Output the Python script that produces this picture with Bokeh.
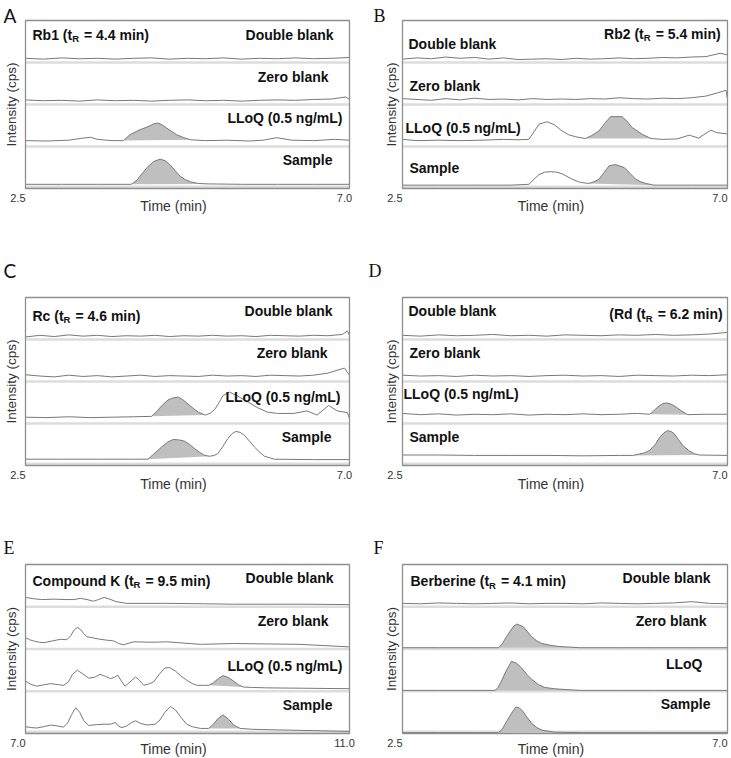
import math
from bokeh.plotting import figure
from bokeh.layouts import row, column
from bokeh.models import Range1d
from bokeh.core.properties import value
from bokeh.embed import file_html
from bokeh.resources import INLINE

# ------------------------------------------------------------------ data
ROW_LABELS = ["Double blank", "Zero blank", "LLoQ (0.5 ng/mL)", "Sample"]
F_ROW_LABELS = ["Double blank", "Zero blank", "LLoQ", "Sample"]
PANEL_LETTERS = ["A", "B", "C", "D", "E", "F"]
TITLES = [("Rb1 (t", "R", " = 4.4 min)"),
          ("Rb2 (t", "R", " = 5.4 min)"),
          ("Rc (t", "R", " = 4.6 min)"),
          ("(Rd (t", "R", " = 6.2 min)"),
          ("Compound K (t", "R", " = 9.5 min)"),
          ("Berberine (t", "R", " = 4.1 min)")]
X_LABEL = "Time (min)"
Y_LABEL = "Intensity (cps)"
XLIM_A = [2.5, 7.0]
XLIM_E = [7.0, 11.0]
GRID25 = [2.5, 2.75, 3.0, 3.25, 3.5, 3.75, 4.0, 4.25, 4.5, 4.75, 5.0, 5.25, 5.5, 5.75, 6.0, 6.25, 6.5, 6.75, 7.0]

# Panel A (Rb1)
A_DB_X = GRID25
A_DB_Y = [0.10, 0.08, 0.11, 0.09, 0.10, 0.08, 0.10, 0.11, 0.08, 0.10, 0.09, 0.11, 0.08, 0.10, 0.09, 0.11, 0.09, 0.10, 0.12]
A_ZB_X = [2.5, 2.75, 3.0, 3.25, 3.5, 3.75, 4.0, 4.25, 4.5, 4.75, 5.0, 5.25, 5.5, 5.75, 6.0, 6.25, 6.5, 6.75, 6.95, 7.0]
A_ZB_Y = [0.11, 0.09, 0.10, 0.08, 0.11, 0.09, 0.10, 0.08, 0.10, 0.11, 0.09, 0.10, 0.08, 0.10, 0.11, 0.10, 0.12, 0.13, 0.18, 0.12]
A_LL_X = [2.5, 2.8, 3.1, 3.3, 3.4, 3.5, 3.7, 3.86, 3.95, 4.09, 4.2, 4.28, 4.34, 4.4, 4.46, 4.53, 4.6, 4.7, 4.79, 5.0, 5.3, 5.6, 5.8, 5.99, 6.2, 6.5, 6.8, 7.0]
A_LL_Y = [0.14, 0.13, 0.15, 0.20, 0.22, 0.17, 0.14, 0.14, 0.28, 0.40, 0.47, 0.54, 0.56, 0.51, 0.44, 0.36, 0.28, 0.21, 0.16, 0.14, 0.15, 0.13, 0.15, 0.21, 0.15, 0.14, 0.17, 0.15]
A_LL_PEAK = [3.86, 4.79]
A_SM_X = [2.5, 3.0, 3.5, 3.97, 4.05, 4.13, 4.2, 4.28, 4.37, 4.44, 4.51, 4.58, 4.65, 4.72, 4.79, 4.9, 5.02, 5.5, 6.0, 6.5, 7.0]
A_SM_Y = [0.10, 0.10, 0.10, 0.10, 0.20, 0.38, 0.52, 0.64, 0.70, 0.66, 0.56, 0.42, 0.29, 0.21, 0.16, 0.12, 0.11, 0.10, 0.10, 0.10, 0.10]
A_SM_PEAK = [3.97, 5.02]

# Panel B (Rb2)
B_DB_X = [2.5, 2.7, 2.9, 3.1, 3.3, 3.5, 3.7, 3.9, 4.1, 4.3, 4.5, 4.7, 4.9, 5.1, 5.3, 5.5, 5.7, 5.9, 6.1, 6.3, 6.5, 6.7, 6.9, 7.0]
B_DB_Y = [0.08, 0.11, 0.09, 0.13, 0.10, 0.12, 0.08, 0.11, 0.07, 0.08, 0.09, 0.07, 0.10, 0.08, 0.09, 0.11, 0.09, 0.10, 0.12, 0.11, 0.13, 0.14, 0.22, 0.18]
B_ZB_X = [2.5, 2.7, 2.9, 3.1, 3.3, 3.5, 3.7, 3.9, 4.1, 4.3, 4.5, 4.7, 4.9, 5.1, 5.3, 5.5, 5.7, 5.9, 6.1, 6.3, 6.5, 6.7, 6.85, 6.98, 7.0]
B_ZB_Y = [0.14, 0.12, 0.10, 0.14, 0.11, 0.15, 0.12, 0.13, 0.11, 0.14, 0.12, 0.13, 0.12, 0.14, 0.13, 0.16, 0.14, 0.13, 0.15, 0.14, 0.16, 0.20, 0.27, 0.34, 0.12]
B_LL_X = [2.5, 2.7, 3.0, 3.3, 3.6, 3.9, 4.1, 4.25, 4.32, 4.39, 4.5, 4.6, 4.71, 4.8, 4.9, 5.03, 5.12, 5.22, 5.3, 5.38, 5.54, 5.61, 5.68, 5.82, 5.94, 6.1, 6.3, 6.47, 6.6, 6.77, 6.85, 7.0]
B_LL_Y = [0.17, 0.14, 0.15, 0.14, 0.15, 0.17, 0.16, 0.17, 0.35, 0.53, 0.59, 0.52, 0.37, 0.28, 0.23, 0.19, 0.26, 0.37, 0.55, 0.71, 0.71, 0.60, 0.45, 0.29, 0.19, 0.17, 0.18, 0.27, 0.20, 0.39, 0.33, 0.30]
B_LL_PEAK = [5.03, 5.94]
B_SM_X = [2.5, 3.0, 3.5, 4.0, 4.25, 4.32, 4.39, 4.47, 4.55, 4.63, 4.71, 4.85, 4.95, 5.03, 5.08, 5.15, 5.22, 5.30, 5.36, 5.45, 5.57, 5.65, 5.73, 5.80, 5.87, 5.98, 6.5, 7.0]
B_SM_Y = [0.08, 0.08, 0.08, 0.08, 0.10, 0.22, 0.33, 0.39, 0.40, 0.39, 0.35, 0.22, 0.15, 0.13, 0.12, 0.16, 0.22, 0.40, 0.54, 0.57, 0.50, 0.36, 0.22, 0.16, 0.12, 0.08, 0.08, 0.08]
B_SM_PEAK = [5.08, 5.98]

# Panel C (Rc)
C_DB_X = [2.5, 2.7, 2.9, 3.1, 3.3, 3.5, 3.7, 3.9, 4.1, 4.3, 4.5, 4.7, 4.9, 5.1, 5.3, 5.5, 5.7, 5.9, 6.1, 6.3, 6.5, 6.7, 6.9, 6.97, 7.0]
C_DB_Y = [0.06, 0.10, 0.07, 0.11, 0.08, 0.10, 0.07, 0.09, 0.08, 0.10, 0.07, 0.09, 0.08, 0.10, 0.08, 0.09, 0.07, 0.10, 0.09, 0.08, 0.10, 0.09, 0.12, 0.20, 0.10]
C_ZB_X = [2.5, 2.7, 2.9, 3.1, 3.3, 3.5, 3.7, 3.9, 4.1, 4.3, 4.5, 4.7, 4.9, 5.1, 5.3, 5.5, 5.7, 5.9, 6.1, 6.3, 6.5, 6.7, 6.93, 6.97, 7.0]
C_ZB_Y = [0.16, 0.13, 0.11, 0.15, 0.12, 0.14, 0.11, 0.13, 0.15, 0.12, 0.14, 0.13, 0.12, 0.15, 0.13, 0.14, 0.12, 0.15, 0.14, 0.13, 0.15, 0.20, 0.32, 0.22, 0.15]
C_LL_X = [2.5, 2.8, 3.1, 3.4, 3.7, 4.0, 4.25, 4.32, 4.39, 4.48, 4.55, 4.62, 4.69, 4.76, 4.83, 4.90, 5.00, 5.07, 5.13, 5.19, 5.24, 5.33, 5.45, 5.6, 5.72, 5.86, 6.0, 6.23, 6.41, 6.55, 6.71, 6.83, 6.97, 7.0]
C_LL_Y = [0.15, 0.14, 0.16, 0.14, 0.15, 0.16, 0.17, 0.28, 0.42, 0.56, 0.61, 0.63, 0.56, 0.46, 0.36, 0.27, 0.20, 0.25, 0.34, 0.50, 0.66, 0.75, 0.65, 0.50, 0.38, 0.27, 0.24, 0.24, 0.30, 0.20, 0.43, 0.30, 0.26, 0.12]
C_LL_PEAK = [4.25, 5.00]
C_SM_X = [2.5, 3.0, 3.5, 4.0, 4.20, 4.30, 4.39, 4.47, 4.55, 4.63, 4.71, 4.78, 4.85, 4.92, 4.99, 5.06, 5.12, 5.17, 5.24, 5.31, 5.37, 5.42, 5.48, 5.54, 5.61, 5.68, 5.75, 5.82, 5.96, 6.5, 7.0]
C_SM_Y = [0.15, 0.15, 0.15, 0.15, 0.15, 0.30, 0.44, 0.55, 0.62, 0.61, 0.58, 0.50, 0.40, 0.31, 0.24, 0.22, 0.24, 0.28, 0.45, 0.64, 0.76, 0.81, 0.79, 0.72, 0.58, 0.44, 0.32, 0.22, 0.15, 0.14, 0.14]
C_SM_PEAK = [4.20, 5.06]

# Panel D (Rd)
D_DB_X = GRID25
D_DB_Y = [0.10, 0.08, 0.11, 0.09, 0.10, 0.12, 0.09, 0.10, 0.08, 0.11, 0.10, 0.09, 0.11, 0.10, 0.12, 0.10, 0.11, 0.13, 0.17]
D_ZB_X = GRID25
D_ZB_Y = [0.15, 0.13, 0.14, 0.12, 0.15, 0.13, 0.14, 0.12, 0.14, 0.15, 0.13, 0.14, 0.12, 0.15, 0.14, 0.13, 0.15, 0.14, 0.16]
D_LL_X = [2.5, 2.75, 3.0, 3.25, 3.5, 3.75, 4.0, 4.25, 4.5, 4.75, 5.0, 5.25, 5.5, 5.75, 5.92, 5.98, 6.03, 6.10, 6.15, 6.22, 6.29, 6.37, 6.45, 6.7, 7.0]
D_LL_Y = [0.24, 0.21, 0.23, 0.20, 0.22, 0.21, 0.23, 0.20, 0.22, 0.21, 0.23, 0.21, 0.22, 0.24, 0.22, 0.30, 0.39, 0.47, 0.49, 0.46, 0.39, 0.29, 0.21, 0.22, 0.22]
D_LL_PEAK = [5.92, 6.45]
D_SM_X = [2.5, 3.0, 3.5, 4.0, 4.5, 5.0, 5.5, 5.69, 5.85, 5.92, 6.0, 6.06, 6.12, 6.17, 6.22, 6.26, 6.32, 6.38, 6.46, 6.54, 6.61, 7.0]
D_SM_Y = [0.25, 0.25, 0.24, 0.24, 0.24, 0.23, 0.24, 0.24, 0.30, 0.36, 0.50, 0.67, 0.78, 0.83, 0.81, 0.76, 0.62, 0.48, 0.36, 0.28, 0.25, 0.24]
D_SM_PEAK = [5.69, 6.61]

# Panel E (Compound K)
E_DB_X = [7.0, 7.1, 7.2, 7.35, 7.5, 7.6, 7.68, 7.76, 7.84, 7.9, 7.97, 8.04, 8.12, 8.25, 8.5, 8.75, 9.2, 9.57, 10.0, 10.5, 11.0]
E_DB_Y = [0.22, 0.19, 0.17, 0.18, 0.17, 0.17, 0.20, 0.17, 0.13, 0.17, 0.22, 0.18, 0.12, 0.08, 0.08, 0.08, 0.07, 0.06, 0.06, 0.06, 0.05]
E_ZB_X = [7.0, 7.05, 7.10, 7.17, 7.23, 7.33, 7.43, 7.51, 7.56, 7.60, 7.64, 7.68, 7.72, 7.76, 7.84, 7.92, 8.0, 8.09, 8.15, 8.21, 8.28, 8.34, 8.55, 8.75, 9.16, 9.57, 10.39, 11.0]
E_ZB_Y = [0.27, 0.22, 0.19, 0.16, 0.15, 0.19, 0.23, 0.22, 0.32, 0.45, 0.51, 0.46, 0.36, 0.29, 0.26, 0.23, 0.21, 0.19, 0.13, 0.10, 0.14, 0.17, 0.16, 0.17, 0.11, 0.13, 0.11, 0.05]
E_LL_X = [7.0, 7.07, 7.14, 7.22, 7.31, 7.39, 7.47, 7.53, 7.58, 7.64, 7.70, 7.78, 7.85, 7.92, 7.99, 8.05, 8.10, 8.14, 8.18, 8.23, 8.29, 8.36, 8.41, 8.46, 8.52, 8.58, 8.66, 8.72, 8.78, 8.85, 8.92, 8.99, 9.06, 9.12, 9.20, 9.26, 9.32, 9.38, 9.44, 9.50, 9.57, 9.63, 9.69, 9.8, 9.98, 10.5, 11.0]
E_LL_Y = [0.24, 0.16, 0.12, 0.15, 0.18, 0.16, 0.14, 0.22, 0.40, 0.50, 0.42, 0.31, 0.33, 0.40, 0.35, 0.30, 0.33, 0.38, 0.25, 0.12, 0.22, 0.34, 0.25, 0.14, 0.17, 0.22, 0.42, 0.55, 0.56, 0.48, 0.36, 0.26, 0.18, 0.14, 0.14, 0.14, 0.20, 0.30, 0.37, 0.33, 0.24, 0.15, 0.10, 0.09, 0.08, 0.07, 0.06]
E_LL_PEAK = [9.26, 9.69]
E_SM_X = [7.0, 7.07, 7.14, 7.22, 7.31, 7.39, 7.47, 7.52, 7.57, 7.62, 7.67, 7.72, 7.78, 7.88, 7.97, 8.05, 8.11, 8.15, 8.19, 8.25, 8.31, 8.36, 8.42, 8.50, 8.60, 8.66, 8.72, 8.79, 8.85, 8.92, 8.99, 9.06, 9.16, 9.26, 9.32, 9.38, 9.44, 9.50, 9.57, 9.65, 9.8, 9.98, 10.5, 11.0]
E_SM_Y = [0.16, 0.14, 0.13, 0.16, 0.20, 0.18, 0.15, 0.25, 0.45, 0.61, 0.50, 0.30, 0.19, 0.21, 0.22, 0.22, 0.26, 0.17, 0.14, 0.18, 0.26, 0.30, 0.24, 0.20, 0.22, 0.32, 0.50, 0.64, 0.56, 0.38, 0.22, 0.16, 0.12, 0.12, 0.22, 0.36, 0.44, 0.35, 0.20, 0.12, 0.10, 0.09, 0.07, 0.05]
E_SM_PEAK = [9.26, 9.65]

# Panel F (Berberine)
F_DB_X = GRID25
F_DB_Y = [0.08, 0.07, 0.09, 0.08, 0.07, 0.08, 0.09, 0.07, 0.08, 0.08, 0.07, 0.09, 0.08, 0.07, 0.08, 0.09, 0.12, 0.08, 0.07]
F_ZB_X = [2.5, 3.0, 3.5, 3.83, 3.88, 3.94, 3.99, 4.04, 4.08, 4.17, 4.23, 4.29, 4.36, 4.43, 4.54, 4.66, 4.96, 5.5, 6.0, 6.5, 7.0]
F_ZB_Y = [0.03, 0.03, 0.03, 0.03, 0.12, 0.29, 0.42, 0.54, 0.59, 0.53, 0.41, 0.29, 0.19, 0.13, 0.09, 0.06, 0.03, 0.03, 0.03, 0.03, 0.03]
F_ZB_PEAK = [3.83, 4.96]
F_LL_X = [2.5, 3.0, 3.5, 3.78, 3.82, 3.87, 3.94, 4.01, 4.08, 4.15, 4.22, 4.29, 4.38, 4.47, 4.6, 4.75, 4.98, 5.5, 6.0, 7.0]
F_LL_Y = [0.02, 0.02, 0.02, 0.02, 0.08, 0.24, 0.50, 0.71, 0.66, 0.55, 0.40, 0.28, 0.16, 0.09, 0.06, 0.04, 0.02, 0.02, 0.02, 0.02]
F_LL_PEAK = [3.78, 4.98]
F_SM_X = [2.5, 3.0, 3.5, 3.83, 3.88, 3.94, 4.01, 4.07, 4.12, 4.17, 4.23, 4.29, 4.36, 4.43, 4.61, 5.0, 6.0, 7.0]
F_SM_Y = [0.02, 0.02, 0.02, 0.02, 0.10, 0.28, 0.48, 0.63, 0.60, 0.52, 0.37, 0.24, 0.14, 0.08, 0.03, 0.02, 0.02, 0.02]
F_SM_PEAK = [3.83, 4.61]

# ------------------------------------------------------------------ styles
LINE_C = "#787878"
FILL_C = "#bfbfbf"
SEP_C = "#dddddd"
BOX_C = "#8e8e8e"
TXT_C = "#111111"
AX_C = "#333333"
FONT = "Liberation Sans"
FS = 14.0
SUB_FS = 9.5

ARIAL_BOLD = {' ': 278, '(': 333, ')': 333, '=': 584, '.': 278, '/': 278, 'C': 722, 'K': 722,
              'R': 722, 'B': 722, 'a': 556, 'b': 611, 'c': 556, 'd': 611, 'e': 556, 'i': 278,
              'm': 889, 'n': 611, 'o': 611, 'p': 611, 'r': 389, 't': 333, 'u': 611}


def text_w(s, size):
    return sum(ARIAL_BOLD.get(ch, 556) for ch in s) * size / 1000.0


def traces(pfx):
    g = globals()
    out = []
    for k in ["DB", "ZB", "LL", "SM"]:
        out.append((g[pfx + "_" + k + "_X"], g[pfx + "_" + k + "_Y"], g.get(pfx + "_" + k + "_PEAK")))
    return out


# panel block geometry (px): block width, frame left, frame width
COLS = [dict(bw=365, left=25, fw=324), dict(bw=366, left=402 - 365, fw=325)]
# block height, frame top, frame height, x-label offset below frame
ROWS = [dict(bh=255, top=20, fh=168, xlab=17), dict(bh=250, top=42, fh=168, xlab=18),
        dict(bh=253, top=59, fh=169, xlab=15)]

LABEL_POS = [
    [("right", -16, 3.66), ("right", -21, 2.66), ("right", -7, 1.68), ("right", -17, 0.67)],
    [("left", 6, 3.45), ("left", 7, 2.45), ("left", 3, 1.43), ("left", 7, 0.50)],
    [("right", -17, 3.69), ("right", -22, 2.67), ("right", -9, 1.62), ("right", -18, 0.69)],
    [("left", 6, 3.69), ("left", 7, 2.67), ("left", 1, 1.71), ("left", 7, 0.67)],
    [("right", -16, 3.67), ("right", -21, 2.67), ("right", -7, 1.60), ("right", -17, 0.67)],
    [("right", -17, 3.67), ("right", -21, 2.67), ("right", -25, 1.64), ("right", -17, 0.69)],
]
TITLE_POS = [("left", 7, 3.66), ("right", -3, 3.69), ("left", 7, 3.57),
             ("right", -1, 3.60), ("left", 7, 3.62), ("left", 8, 3.60)]
# letter: x offset from frame left, baseline offset above frame top, font, size
LETTER_POS = [(-22, 5, "Lato", "19px"), (-29, 5, "Liberation Serif", "18px"),
              (-22, 27, "Lato", "19px"), (-34, 27, "Liberation Serif", "18px"),
              (-22, 17, "Liberation Serif", "18px"), (-29, 17, "Liberation Serif", "18px")]


def make_panel(idx):
    pfx = "ABCDEF"[idx]
    xmin, xmax = XLIM_E if pfx == "E" else XLIM_A
    col = COLS[idx % 2]
    rw = ROWS[idx // 2]
    dxp = (xmax - xmin) / col["fw"]
    dyp = 4.0 / rw["fh"]
    right_pad = col["bw"] - col["left"] - col["fw"]
    bottom_pad = rw["bh"] - rw["top"] - rw["fh"]
    p = figure(frame_width=col["bw"], frame_height=rw["bh"], min_border=0,
               x_range=Range1d(xmin - col["left"] * dxp, xmax + right_pad * dxp),
               y_range=Range1d(0 - bottom_pad * dyp, 4 + rw["top"] * dyp),
               x_axis_location=None, y_axis_location=None,
               output_backend="svg", toolbar_location=None)
    p.xgrid.visible = False
    p.ygrid.visible = False
    p.outline_line_color = None
    p.background_fill_color = "white"
    p.border_fill_color = "white"

    # row separators
    seps = [0.04, 1, 2, 3]
    p.segment(x0=[xmin] * 4, x1=[xmax] * 4, y0=seps, y1=seps, line_color=SEP_C, line_width=2.5)

    # traces (row 0 at top)
    for i, (xs, ys, peak) in enumerate(traces(pfx)):
        off = 3 - i
        yy = [v + off for v in ys]
        if peak:
            px = [x for x in xs if peak[0] <= x <= peak[1]]
            py = [y for x, y in zip(xs, yy) if peak[0] <= x <= peak[1]]
            p.patch(px, py, fill_color=FILL_C, line_color=None)
        p.line(xs, yy, line_color=LINE_C, line_width=1.0)

    # plot box
    p.quad(left=[xmin], right=[xmax], bottom=[0], top=[4], fill_color=None,
           line_color=BOX_C, line_width=1.3)

    # row labels
    names = F_ROW_LABELS if pfx == "F" else ROW_LABELS
    for name, (side, dx, yv) in zip(names, LABEL_POS[idx]):
        p.text(x=[xmin if side == "left" else xmax], y=[yv], text=[name], x_offset=dx,
               text_align=side, text_baseline="middle", text_font=value(FONT),
               text_font_style="bold", text_font_size=f"{FS}px", text_color=TXT_C)

    # compound title with subscript R
    pre, sub, suf = TITLES[idx]
    side, dx, yv = TITLE_POS[idx]
    gap = 5
    if side == "left":
        x0 = xmin
        o_pre = dx
        o_sub = dx + text_w(pre, FS)
        o_suf = o_sub + text_w(sub, SUB_FS) + gap
    else:
        x0 = xmax
        o_suf = dx
        o_sub = dx - text_w(suf, FS) - gap
        o_pre = o_sub - text_w(sub, SUB_FS)
    common = dict(text_align=side, text_font=value(FONT), text_font_style="bold", text_color=TXT_C)
    p.text(x=[x0], y=[yv], text=[pre], x_offset=o_pre, text_baseline="middle",
           text_font_size=f"{FS}px", **common)
    p.text(x=[x0], y=[yv], text=[sub], x_offset=o_sub, y_offset=4, text_baseline="middle",
           text_font_size=f"{SUB_FS}px", **common)
    p.text(x=[x0], y=[yv], text=[suf], x_offset=o_suf, text_baseline="middle",
           text_font_size=f"{FS}px", **common)

    # x tick labels (ends of the time axis)
    tick_common = dict(text_font=value(FONT), text_font_size="11px", text_color=AX_C,
                       text_baseline="middle", y_offset=9.5)
    p.text(x=[xmin], y=[0], text=[f"{xmin:.1f}"], text_align="right", **tick_common)
    if idx % 2 == 0:
        p.text(x=[xmax], y=[0], text=[f"{xmax:.1f}"], text_align="center", x_offset=-5, **tick_common)
    else:
        p.text(x=[xmax], y=[0], text=[f"{xmax:.1f}"], text_align="right", **tick_common)

    # axis titles
    p.text(x=[(xmin + xmax) / 2], y=[0], text=[X_LABEL], x_offset=-14, y_offset=rw["xlab"],
           text_align="center", text_baseline="middle", text_font=value(FONT),
           text_font_size="14px", text_color=AX_C)
    p.text(x=[xmin], y=[2], text=[Y_LABEL], angle=math.pi / 2,
           x_offset=(-7 if idx % 2 == 0 else -4), text_align="center", text_baseline="bottom",
           text_font=value(FONT), text_font_size="13.5px", text_color=AX_C)

    # panel letter
    lx, ly, lfont, lsize = LETTER_POS[idx]
    p.text(x=[xmin], y=[4], text=[PANEL_LETTERS[idx]], x_offset=lx, y_offset=-ly,
           text_align="left", text_baseline="alphabetic", text_font=value(lfont),
           text_font_size=lsize, text_color="#111111")
    return p


panels = [make_panel(i) for i in range(6)]
layout = column(row(panels[0], panels[1]), row(panels[2], panels[3]), row(panels[4], panels[5]))

open("out.html", "w").write(file_html(layout, INLINE))
